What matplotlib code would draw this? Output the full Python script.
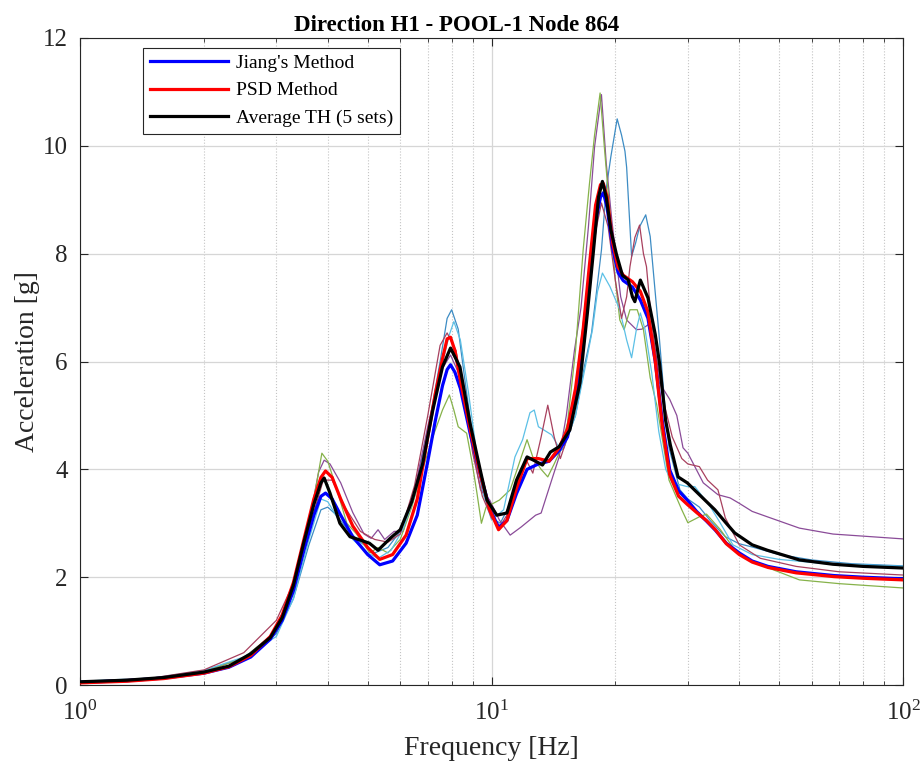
import numpy as np
import matplotlib
matplotlib.use("Agg")
import matplotlib.pyplot as plt
from matplotlib.ticker import LogLocator, NullFormatter

plt.rcParams['font.family'] = ['Liberation Serif', 'DejaVu Serif']
plt.rcParams['mathtext.fontset'] = 'custom'
plt.rcParams['mathtext.rm'] = 'Liberation Serif'
plt.rcParams['mathtext.it'] = 'Liberation Serif:italic'
plt.rcParams['mathtext.bf'] = 'Liberation Serif:bold'

# ---- data ----
freq_smooth = [1, 1.3, 1.6, 2, 2.3, 2.6, 2.9, 3.1, 3.3, 3.5, 3.7, 3.85, 3.95, 4.1, 4.3,
               4.6, 5.0, 5.35, 5.75, 6.2, 6.6, 7.0, 7.3, 7.6, 7.8, 7.95, 8.15, 8.4,
               8.9, 9.4, 9.9, 10.4, 10.9, 11.5, 12.2, 13.0, 13.8, 14.6, 15.3, 16.0,
               16.7, 17.3, 17.9, 18.4, 18.7, 19.1, 19.7, 20.3, 20.9, 22.0, 23.0, 24.0,
               25.0, 26.0, 27.1, 28.5, 29.9, 31.5, 33.3, 35, 37.2, 40, 43, 47, 55, 68,
               80, 100]
jiang = [0.05, 0.08, 0.13, 0.22, 0.33, 0.52, 0.85, 1.2, 1.75, 2.5, 3.15, 3.5, 3.56,
         3.45, 3.15, 2.75, 2.42, 2.23, 2.3, 2.63, 3.15, 4.15, 4.9, 5.55, 5.85, 5.94,
         5.8, 5.5, 4.62, 3.9, 3.28, 2.92, 3.05, 3.55, 4.0, 4.1, 4.15, 4.35, 4.6, 5.3,
         6.3, 7.5, 8.6, 9.05, 9.13, 8.85, 8.1, 7.65, 7.5, 7.38, 7.14, 6.8, 6.0, 4.9,
         3.99, 3.6, 3.43, 3.22, 3.04, 2.87, 2.63, 2.45, 2.3, 2.2, 2.1, 2.03, 2.0, 1.97]
psd = [0.04, 0.07, 0.12, 0.22, 0.34, 0.55, 0.9, 1.3, 1.9, 2.7, 3.45, 3.85, 3.97,
       3.85, 3.45, 2.95, 2.55, 2.33, 2.42, 2.78, 3.45, 4.6, 5.4, 6.05, 6.42, 6.45,
       6.2, 5.65, 4.7, 3.9, 3.25, 2.88, 3.05, 3.65, 4.2, 4.2, 4.15, 4.4, 4.75, 5.5,
       6.6, 7.8, 8.9, 9.28, 9.3, 9.05, 8.2, 7.75, 7.6, 7.48, 7.3, 6.92, 6.0, 4.8,
       3.9, 3.5, 3.35, 3.2, 3.05, 2.88, 2.62, 2.42, 2.28, 2.18, 2.08, 2.01, 1.98, 1.95]

freq_avg = [1, 1.3, 1.6, 2, 2.3, 2.6, 2.9, 3.1, 3.3, 3.5, 3.7, 3.85, 3.92, 4.05, 4.28,
            4.53, 4.79, 5.05, 5.3, 5.5, 5.67, 6.0, 6.4, 6.8, 7.2, 7.6, 7.95, 8.38,
            8.87, 9.38, 9.75, 10.3, 10.9, 11.5, 12.2, 12.8, 13.3, 13.9, 14.6, 15.5,
            16.4, 17.1, 17.7, 18.2, 18.6, 19.0, 19.5, 20.1, 20.8, 21.5, 22.0, 22.3,
            22.7, 23.0, 24.0, 25.0, 25.6, 26.5, 27.2, 28.4, 29.9, 32, 34.9, 37.2, 39,
            43, 46.8, 56, 67.6, 80, 100]
avg_th = [0.06, 0.09, 0.14, 0.24, 0.35, 0.58, 0.88, 1.25, 1.85, 2.65, 3.35, 3.75,
          3.84, 3.56, 3.0, 2.75, 2.69, 2.63, 2.5, 2.62, 2.72, 2.88, 3.4, 4.1, 5.1,
          5.9, 6.25, 5.9, 4.85, 4.0, 3.43, 3.15, 3.19, 3.8, 4.23, 4.15, 4.08, 4.32,
          4.42, 4.73, 5.6, 6.9, 8.07, 9.05, 9.34, 9.05, 8.44, 8.0, 7.6, 7.51, 7.2, 7.11,
          7.35, 7.51, 7.18, 6.5, 5.97, 4.9, 4.45, 3.86, 3.75, 3.53, 3.25, 3.0, 2.82,
          2.6, 2.5, 2.32, 2.24, 2.2, 2.17]

# five individual time histories
f_th1 = [1, 1.5, 2, 2.5, 3, 3.3, 3.6, 3.85, 4.0, 4.2, 4.5, 4.8, 5.2, 5.6, 6.0, 6.5, 7.0,
         7.5, 7.8, 8.0, 8.3, 8.6, 9.0, 9.5, 10.0, 10.5, 11, 11.6, 12.2, 13, 14, 15, 16,
         16.8, 17.5, 18.0, 18.5, 19.0, 19.5, 20.2, 20.7, 21.1, 21.3, 21.9, 22.4, 22.9,
         23.7, 24.3, 25, 25.6, 26.3, 27, 28.7, 30, 32, 34, 37, 40, 43, 50, 60, 75, 100]
th1 = [0.06, 0.12, 0.26, 0.5, 0.95, 1.6, 2.6, 3.25, 3.3, 3.15, 2.85, 2.65, 2.45, 2.55,
       2.85, 3.6, 4.7, 6.0, 6.8, 6.96, 6.6, 5.7, 4.6, 3.6, 3.1, 3.0, 3.3, 3.7, 4.0, 4.1,
       4.2, 4.4, 5.0, 5.9, 6.53, 7.3, 8.07, 9.2, 9.8, 10.5, 10.2, 9.9, 9.6, 7.95, 8.2,
       8.5, 8.72, 8.32, 7.27, 6.4, 5.3, 4.4, 3.62, 3.45, 3.3, 3.05, 2.75, 2.62, 2.56,
       2.42, 2.32, 2.25, 2.21]

f_th2 = [1, 1.5, 2, 2.5, 3, 3.3, 3.6, 3.8, 3.92, 4.05, 4.3, 4.6, 4.9, 5.1, 5.3, 5.5, 5.8,
         6.1, 6.5, 7.0, 7.5, 7.95, 8.3, 8.8, 9.4, 9.9, 10.45, 11.1, 11.8, 12.8, 13.2,
         14.0, 14.6, 15.2, 15.9, 16.5, 17.2, 17.8, 18.5, 19.0, 19.6, 20.2, 20.6, 21.3,
         22.5, 23.2, 24.3, 24.8, 25.6, 27.1, 28.2, 29.2, 30, 31.2, 32.7, 35.5, 38, 40,
         43, 46.8, 56, 67.6, 100]
th2 = [0.06, 0.12, 0.25, 0.5, 1.0, 1.75, 3.0, 3.95, 4.17, 4.1, 3.75, 3.2, 2.8, 2.72,
       2.88, 2.7, 2.85, 2.85, 3.6, 4.8, 5.8, 6.12, 5.8, 4.8, 3.62, 3.43, 3.06, 2.78,
       2.93, 3.15, 3.19, 3.8, 4.23, 5.0, 6.2, 7.0, 8.5, 9.98, 10.95, 9.68, 8.63, 7.76,
       7.2, 6.77, 6.59, 6.6, 6.71, 6.2, 5.6, 5.3, 5.0, 4.4, 4.3, 4.05, 3.75, 3.53, 3.47,
       3.37, 3.22, 3.12, 2.91, 2.8, 2.71]

f_th3 = [1, 1.5, 2, 2.5, 3, 3.3, 3.55, 3.75, 3.87, 4.0, 4.2, 4.45, 4.7, 5.06, 5.3, 5.6,
         6.0, 6.4, 6.8, 7.2, 7.6, 7.9, 8.1, 8.3, 8.7, 8.95, 9.2, 9.45, 9.7, 10.1, 10.45,
         11.1, 11.6, 12.2, 12.6, 13.2, 13.7, 14.2, 14.6, 15.3, 16.0, 16.7, 17.3, 17.8,
         18.36, 18.8, 19.4, 20.0, 20.5, 21.0, 21.7, 22.6, 23.4, 24.3, 25.2, 26.2, 27,
         29, 30, 32, 33.3, 36, 39.5, 45, 56, 70, 100]
th3 = [0.06, 0.12, 0.25, 0.5, 1.0, 1.7, 2.7, 3.7, 4.3, 4.15, 3.65, 3.0, 2.8, 2.45,
       2.55, 2.45, 2.7, 3.3, 4.0, 4.6, 5.1, 5.38, 5.1, 4.79, 4.67, 4.17, 3.6, 3.0, 3.3,
       3.37, 3.43, 3.62, 4.05, 4.55, 4.23, 4.0, 3.86, 4.1, 4.3, 4.86, 6.2, 8.07, 9.3,
       10.2, 10.98, 9.98, 8.75, 7.5, 6.77, 6.59, 6.96, 6.96, 6.59, 5.7, 5.2, 4.42, 3.8,
       3.25, 3.01, 3.12, 3.17, 2.88, 2.45, 2.23, 1.95, 1.88, 1.8]

f_th4 = [1, 1.5, 2, 2.5, 3, 3.3, 3.6, 3.85, 4.0, 4.3, 4.6, 5.0, 5.3, 5.7, 6.1, 6.5, 7.0,
         7.5, 7.9, 8.1, 8.4, 8.8, 9.2, 9.6, 10.0, 10.7, 11.4, 11.9, 12.4, 12.7, 13.0,
         13.4, 14.0, 14.6, 15.3, 16.0, 17.0, 17.6, 18.1, 18.6, 19.4, 20.5, 21.3, 21.9,
         22.5, 23.0, 23.6, 24.5, 25.5, 26.5, 27.5, 29.9, 31.2, 34, 36, 38.6, 43, 50, 65,
         100]
th4 = [0.07, 0.13, 0.27, 0.52, 0.9, 1.6, 2.7, 3.45, 3.4, 3.0, 2.7, 2.45, 2.35, 2.5,
       2.9, 3.5, 4.6, 5.8, 6.5, 6.74, 6.4, 5.4, 4.3, 3.5, 3.06, 3.25, 4.23, 4.55, 5.05,
       5.1, 4.79, 4.73, 4.64, 4.4, 4.6, 5.0, 6.0, 6.6, 7.3, 7.64, 7.39, 6.96, 6.4, 6.07,
       6.6, 6.9, 6.6, 5.8, 4.7, 4.0, 3.75, 3.68, 3.68, 3.31, 3.0, 2.6, 2.42, 2.33, 2.25,
       2.2]

f_th5 = [1, 1.5, 2, 2.5, 3, 3.4, 3.7, 3.9, 4.1, 4.4, 4.8, 5.2, 5.6, 6.0, 6.5, 7.0, 7.5,
         7.8, 8.2, 8.6, 9.0, 9.5, 10.0, 10.5, 11, 11.6, 12.1, 12.6, 13.2, 13.7, 14.2,
         14.7, 15.3, 16, 17, 18, 18.5, 19.2, 20, 20.7, 21.3, 21.7, 22.3, 22.9, 23.4,
         23.8, 24.3, 24.8, 26.1, 27.5, 29, 30, 32, 33.5, 35.5, 37, 40, 45, 55, 70, 100]
th5 = [0.06, 0.13, 0.28, 0.6, 1.2, 2.1, 3.2, 3.8, 3.8, 3.3, 2.85, 2.7, 2.65, 2.8, 3.7,
       5.0, 6.3, 6.53, 6.2, 5.3, 4.3, 3.5, 3.1, 2.95, 3.2, 3.8, 4.2, 3.93, 4.6, 5.19,
       4.6, 4.2, 4.6, 5.5, 7.2, 8.5, 8.94, 8.5, 7.5, 6.8, 7.2, 7.76, 8.3, 8.53, 8.0,
       7.76, 7.0, 6.4, 5.3, 4.6, 4.2, 4.1, 4.05, 3.8, 3.62, 3.1, 2.6, 2.35, 2.2, 2.1,
       2.04]

th_freqs = [f_th1, f_th2, f_th3, f_th4, f_th5]
th_vals = [th1, th2, th3, th4, th5]
th_colors = ['#3d8cc4', '#8a4b98', '#86b24a', '#5cc0e6', '#a8405e']

# ---- plot ----
fig = plt.figure(figsize=(9.22, 7.69), dpi=100)
ax = fig.add_axes([0.0868, 0.1092, 0.8926, 0.8414])

for f, v, c in zip(th_freqs, th_vals, th_colors):
    ax.plot(f, v, color=c, lw=0.9, zorder=2)

ax.plot(freq_smooth, jiang, color='#0000ff', lw=2.3, label="Jiang's Method", zorder=3)
ax.plot(freq_smooth, psd, color='#ff0000', lw=2.3, label='PSD Method', zorder=4)
ax.plot(freq_avg, avg_th, color='#000000', lw=2.3, label='Average TH (5 sets)', zorder=5)

ax.set_xscale('log')
ax.set_xlim(1, 100)
ax.set_ylim(0, 12)
ax.set_yticks(np.arange(0, 13, 2))
ax.xaxis.set_minor_locator(LogLocator(base=10, subs=np.arange(2, 10)))
ax.xaxis.set_minor_formatter(NullFormatter())

ax.grid(True, which='major', axis='both', color='#d6d6d6', lw=0.9, ls='-', zorder=0)
ax.grid(True, which='minor', axis='x', color='#c4c4c4', lw=0.8, ls=':', zorder=0)
ax.set_axisbelow(True)

ax.tick_params(which='both', direction='in', top=True, right=True, colors='#262626',
               labelsize=18)
ax.tick_params(which='major', length=6, width=0.8)
ax.tick_params(axis='y', which='major', pad=9)
ax.tick_params(axis='x', which='major', pad=11)
ax.tick_params(which='minor', length=3, width=0.6)
for s in ax.spines.values():
    s.set_color('#262626')
    s.set_linewidth(0.8)

ax.set_xlabel('Frequency [Hz]', fontsize=20, color='#262626', labelpad=8)
ax.set_ylabel('Acceleration [g]', fontsize=20, color='#262626', labelpad=2)
ax.set_title('Direction H1 - POOL-1 Node 864', fontsize=16.5, fontweight='bold',
             pad=5, x=0.458)

leg = ax.legend(loc='upper left', bbox_to_anchor=(0.077, 0.985), borderaxespad=0,
                fontsize=14, fancybox=False, framealpha=1, edgecolor='#262626',
                handlelength=4.0, handletextpad=0.4, labelspacing=0.5,
                borderpad=0.35)
leg.get_frame().set_linewidth(0.8)

fig.savefig('out.png', dpi=100, facecolor='white')
